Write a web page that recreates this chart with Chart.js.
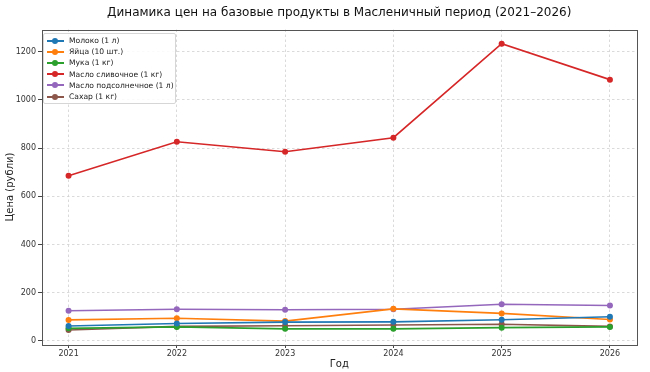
<!DOCTYPE html>
<html><head><meta charset="utf-8">
<script src="https://cdn.jsdelivr.net/npm/chart.js@4/dist/chart.umd.min.js"></script>
<style>
body{margin:0;background:#fff;}
#wrap{position:relative;width:650px;height:372px;}
#title{position:absolute;left:41.5px;width:595.5px;top:4px;text-align:center;font-family:"DejaVu Sans",sans-serif;font-size:12px;line-height:16px;color:#111;white-space:nowrap;}
#legend{position:absolute;left:43px;top:33px;width:133px;box-sizing:border-box;border:1px solid #d6d6d6;border-radius:2px;background:rgba(255,255,255,0.85);padding:1px 0 1px 0;font-family:"DejaVu Sans",sans-serif;font-size:7.6px;color:#222;}
.row{position:relative;height:11.2px;line-height:11.2px;padding-left:25px;white-space:nowrap;}
.sw{position:absolute;left:2.5px;top:4.6px;width:17px;height:2px;}
.dot{position:absolute;left:5.5px;top:-2px;width:6px;height:6px;border-radius:50%;}
</style></head>
<body><div id="wrap"><canvas id="c" width="650" height="372"></canvas><div id="title"></div><div id="legend"></div></div>
<script>
const chartTitle = "Динамика цен на базовые продукты в Масленичный период (2021–2026)";
const years = [2021, 2022, 2023, 2024, 2025, 2026];
const seriesNames = ["Молоко (1 л)", "Яйца (10 шт.)", "Мука (1 кг)", "Масло сливочное (1 кг)", "Масло подсолнечное (1 л)", "Сахар (1 кг)"];
const milk      = [62, 72, 78, 79, 88, 100];
const eggs      = [87, 94, 82, 133, 114, 89];
const flour     = [52, 58, 50, 50, 55, 58];
const butter    = [685, 826, 785, 843, 1233, 1084];
const sunOil    = [125, 131, 129, 131, 152, 147];
const sugar     = [45, 60, 63, 66, 69, 60];
const yTicks = [0, 200, 400, 600, 800, 1000, 1200];
const colors = ["#1f77b4", "#ff7f0e", "#2ca02c", "#d62728", "#9467bd", "#8c564b"];
const allSeries = [milk, eggs, flour, butter, sunOil, sugar];

const FONT = "'DejaVu Sans', sans-serif";
const datasets = allSeries.map((s, i) => ({
  label: seriesNames[i],
  data: s.map((v, j) => ({x: years[j], y: v})),
  borderColor: colors[i], backgroundColor: colors[i],
  borderWidth: 1.6, pointRadius: 3, pointHoverRadius: 3, pointBorderWidth: 0,
  tension: 0
}));

const frame = {
  id: 'frame',
  afterDraw(chart) {
    const a = chart.chartArea, ctx = chart.ctx;
    ctx.save(); ctx.strokeStyle = '#555'; ctx.lineWidth = 1;
    ctx.strokeRect(Math.round(a.left)+0.5, Math.round(a.top)+0.5, Math.round(a.right-a.left)-1, Math.round(a.bottom-a.top));
    ctx.restore();
  }
};

document.getElementById('title').textContent = chartTitle;

new Chart(document.getElementById('c'), {
  type: 'line',
  data: { datasets },
  plugins: [frame],
  options: {
    responsive: false, animation: false,
    layout: { padding: { left: 0, right: 13, top: 29.5, bottom: 2 } },
    plugins: {
      legend: { display: false },
      tooltip: { enabled: false },
      title: { display: false }
    },
    scales: {
      x: {
        type: 'linear', min: 2020.75, max: 2026.25,
        afterBuildTicks: s => { s.ticks = years.map(v => ({ value: v })); },
        afterFit: s => { s.height = 25.5; },
        border: { display: false, dash: [2.5, 2.5] },
        grid: { color: '#d0d0d0', lineWidth: 0.8, tickLength: 3.5, tickColor: '#444', tickBorderDash: [], tickWidth: 1 },
        ticks: { color: '#333', font: { family: FONT, size: 8 }, padding: 1, maxRotation: 0, callback: v => String(v) },
        title: { display: true, text: 'Год', color: '#222', font: { family: FONT, size: 10 }, padding: { top: 0, bottom: 0 } }
      },
      y: {
        min: -15, max: 1292,
        afterBuildTicks: s => { s.ticks = yTicks.map(v => ({ value: v })); },
        afterFit: s => { s.width = 41.5; },
        border: { display: false, dash: [2.5, 2.5] },
        grid: { color: '#d0d0d0', lineWidth: 0.8, tickLength: 3.5, tickColor: '#444', tickBorderDash: [], tickWidth: 1 },
        ticks: { color: '#333', font: { family: FONT, size: 8 }, padding: 2, callback: v => String(v) },
        title: { display: true, text: 'Цена (рубли)', color: '#222', font: { family: FONT, size: 10 }, padding: { top: 4, bottom: 0 } }
      }
    }
  }
});

const lg = document.getElementById('legend');
seriesNames.forEach((n, i) => {
  const r = document.createElement('div'); r.className = 'row';
  r.innerHTML = '<span class="sw" style="background:' + colors[i] + '"><span class="dot" style="background:' + colors[i] + '"></span></span>';
  r.appendChild(document.createTextNode(n));
  lg.appendChild(r);
});
</script></body></html>
